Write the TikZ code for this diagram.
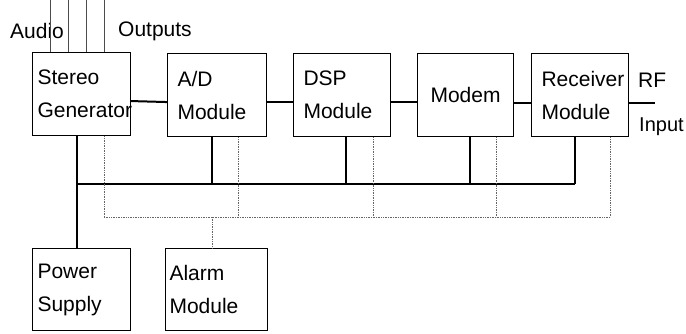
\documentclass[tikz,border=0pt]{standalone}
\usepackage{fontspec}
\setmainfont{Liberation Sans}
\tikzset{
  block/.style={draw, line width=1.1pt, anchor=north west, inner xsep=5pt, inner ysep=0pt,
    minimum height=83pt, align=left, font=\fontsize{21}{33}\selectfont},
  link/.style={line width=2pt},
  bus/.style={line width=1.1pt},
  ctrl/.style={densely dotted, line width=0.7pt, black!60},
  wire/.style={line width=0.8pt, black!70},
  tag/.style={anchor=west, inner sep=0pt, font=\fontsize{21}{25}\selectfont}
}
\begin{document}
\begin{tikzpicture}[x=1pt,y=-1pt]
  \useasboundingbox (0,0) rectangle (686,333);
  \node[block, text width=88pt] (stereo) at (32,52) {Stereo\\Generator};
  \node[block, inner xsep=10pt, text width=79pt] (ad) at (167,53) {A/D\\Module};
  \node[block, inner xsep=10pt, text width=77pt] (dsp) at (293,53) {DSP\\Module};
  \node[block, align=center, text width=86pt] (modem) at (417,53) {Modem};
  \node[block, inner xsep=10pt, text width=77pt] (receiver) at (531,53) {Receiver\\Module};
  \node[block, minimum height=82pt, text width=88pt] (power) at (32,248) {Power\\Supply};
  \node[block, minimum height=82pt, inner xsep=4pt, text width=94pt] (alarm) at (165,248) {Alarm\\Module};
  \node[tag] (audio) at (10,31) {Audio};
  \node[tag] (outputs) at (118,31) {Outputs};
  \node[tag] (rf) at (638,80) {RF};
  \node[tag, font=\fontsize{20}{24}\selectfont] (input) at (639,127) {Input};
  \foreach \x in {50,68,86,104}
    \draw[wire] (\x,0) -- (stereo.north -| \x,0);
  \draw[link] ([yshift=-7pt]stereo.east) -- ([yshift=-7pt]ad.west);
  \draw[link] ([yshift=-7pt]ad.east) -- ([yshift=-7pt]dsp.west);
  \draw[link] ([yshift=-7pt]dsp.east) -- ([yshift=-7pt]modem.west);
  \draw[link] ([yshift=-8pt]modem.east) -- ([yshift=-8pt]receiver.west);
  \coordinate (rfend) at (655,103);
  \draw[link] (receiver.east |- rfend) -- (rfend);
  \draw[bus] (stereo.south -| 77,0) -- (power.north -| 77,0);
  \draw[bus] (77,184) -- (575,184);
  \foreach \n/\x in {ad/212, dsp/346, modem/470, receiver/575}
    \draw[bus] (\n.south -| \x,0) -- (\x,184);
  \foreach \n/\x in {stereo/104, ad/238, dsp/373, modem/496, receiver/610}
    \draw[ctrl] (\n.south -| \x,0) -- (\x,217);
  \draw[ctrl] (104,217) -- (610,217);
  \draw[ctrl] (212,217) -- (alarm.north -| 212,0);
\end{tikzpicture}
\end{document}
